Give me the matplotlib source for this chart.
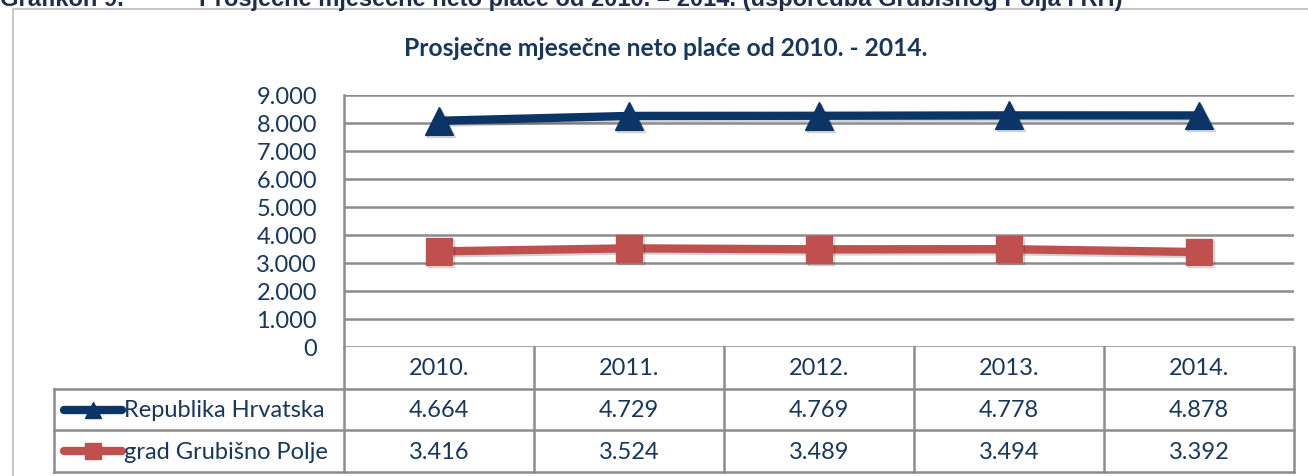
import numpy as np
import matplotlib.pyplot as plt
import matplotlib.patheffects as pe
from matplotlib.patches import Rectangle

# data (neto plaće, kn)
years = ["2010.", "2011.", "2012.", "2013.", "2014."]
rh = [4664, 4729, 4769, 4778, 4878]
gp = [3416, 3524, 3489, 3494, 3392]
series_names = ["Republika Hrvatska", "grad Grubišno Polje"]
yticks = [0, 1000, 2000, 3000, 4000, 5000, 6000, 7000, 8000, 9000]

navy = "#0B3566"
red = "#C0504D"
txt = "#17375E"
grid = "#8C8C8C"
FONT = "Lato"
FS = 17

W, H = 1308, 477
fig = plt.figure(figsize=(W / 100, H / 100), dpi=100)

def px(x0, y0, x1, y1):
    return [x0 / W, 1 - y1 / H, (x1 - x0) / W, (y1 - y0) / H]

# caption above the chart (cut off at top)
fig.text(0 / W, 1 - 6 / H, "Grafikon 9.", fontsize=17, fontweight="bold",
         color="#1F2D4D", family="Liberation Sans", va="baseline", ha="left")
fig.text(199 / W, 1 - 6 / H,
         "Prosječne mjesečne neto plaće od 2010. – 2014. (usporedba Grubišnog Polja i RH)",
         fontsize=17, fontweight="bold", color="#1F2D4D", family="Liberation Sans",
         va="baseline", ha="left")

# chart frame
fig.patches.append(Rectangle((13 / W, -0.1), 1.2, 1 - 10 / H + 0.1,
                             transform=fig.transFigure, fill=False,
                             edgecolor="#BFBFBF", lw=1.2))

fig.text(666 / W, 1 - 48 / H, "Prosječne mjesečne neto plaće od 2010. - 2014.",
         fontsize=17.7, fontweight="bold", color=txt, family=FONT,
         ha="center", va="center")

ax = fig.add_axes(px(344, 96, 1294, 348))
x = np.arange(len(years))
gp_arr = np.array(gp)
stack = gp_arr + np.array(rh)  # stacked line chart

shadow = [pe.SimpleLineShadow(offset=(1.5, -1.5), alpha=0.18), pe.Normal()]
ax.plot(x, stack, color=navy, lw=6, marker="^", markersize=20,
        solid_capstyle="round", path_effects=shadow, zorder=3)
ax.plot(x, gp_arr, color=red, lw=6, marker="s", markersize=19,
        path_effects=shadow, zorder=3)

ax.set_xlim(-0.5, len(years) - 0.5)
ax.set_ylim(0, 9000)
ax.set_yticks(yticks)
ax.set_yticklabels(["0"] + [f"{v // 1000}.000" for v in yticks[1:]])
ax.set_xticks([])
ax.grid(axis="y", color=grid, lw=1.8)
ax.set_axisbelow(True)
for s in ["top", "right", "bottom"]:
    ax.spines[s].set_visible(False)
ax.spines["left"].set_color(grid)
ax.spines["left"].set_linewidth(1.8)
ax.tick_params(axis="y", length=0, pad=19.5, labelsize=FS, labelcolor=txt)
for t in ax.get_yticklabels():
    t.set_family(FONT)

# data table below
legw = (344 - 54) / 190.0
tab = fig.add_axes(px(54, 348, 1294, 473))
tab.set_xlim(-0.5 - legw, len(years) - 0.5)
tab.set_ylim(3, 0)
tab.axis("off")
lk = dict(color=grid, lw=1.8, clip_on=False, solid_capstyle="projecting")
for r in [1, 2, 3]:
    tab.plot([-0.5 - legw, len(years) - 0.5], [r, r], **lk)
for c in range(len(years) + 1):
    tab.plot([c - 0.5, c - 0.5], [0, 3], **lk)
tab.plot([-0.5 - legw, -0.5 - legw], [1, 3], **lk)

tk = dict(fontsize=FS, color=txt, family=FONT, ha="center", va="center")
for i, yr in enumerate(years):
    tab.text(i, 0.5, yr, **tk)
    tab.text(i, 1.5, f"{rh[i] / 1000:.3f}", **tk)
    tab.text(i, 2.5, f"{gp[i] / 1000:.3f}", **tk)

x0 = -0.5 - legw
for row, (name, col, mk) in enumerate(zip(series_names, [navy, red], ["^", "s"])):
    yy = row + 1.5
    tab.plot([x0 + 0.05, x0 + 0.36], [yy, yy], color=col, lw=6,
             solid_capstyle="round", clip_on=False)
    tab.plot([x0 + 0.205], [yy], color=col, marker=mk, markersize=11,
             clip_on=False)
    tab.text(x0 + 0.368, yy, name, fontsize=FS, color=txt, family=FONT,
             ha="left", va="center")

fig.savefig("out.png", dpi=100)
